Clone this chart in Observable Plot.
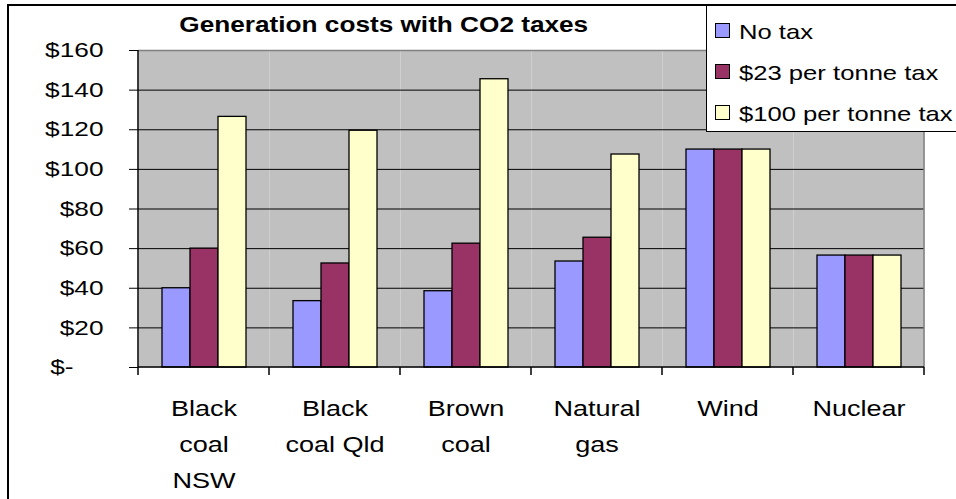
<!DOCTYPE html>
<html>
<head>
<meta charset="utf-8">
<script src="https://cdn.jsdelivr.net/npm/d3@7"></script>
<script src="https://cdn.jsdelivr.net/npm/@observablehq/plot@0.6"></script>
<style>
  html, body { margin: 0; padding: 0; background: #fff; }
  #wrap { position: relative; width: 956px; height: 499px; overflow: hidden; font-family: "Liberation Sans", Arial, sans-serif; }
  #chart { position: absolute; left: 0; top: 0; }
  #outer { position: absolute; left: 7px; top: 4px; width: 1000px; height: 600px; border: 2px solid #000; box-sizing: border-box; pointer-events: none; }
  #title { position: absolute; left: 0; width: 768px; top: 14px; text-align: center; font-weight: bold; font-size: 22px; line-height: 22px; color: #000; }
  #title span { display: inline-block; transform: scaleX(1.19); transform-origin: center; }
  #legend { position: absolute; left: 706px; top: 5px; width: 300px; height: 127px; background: #fff; border: 1px solid #000; box-sizing: border-box; }
  .item { position: absolute; left: 32px; font-size: 21px; line-height: 21px; color: #000; white-space: nowrap; transform: scaleX(1.22); transform-origin: left center; }
  .sw { position: absolute; left: 8px; width: 15px; height: 15px; border: 1px solid #000; box-sizing: border-box; }
</style>
</head>
<body>
<div id="wrap">
  <div id="chart"></div>
  <div id="title"><span></span></div>
  <div id="legend"></div>
  <div id="outer"></div>
</div>
<script>
const title = "Generation costs with CO2 taxes";
const categories = ["Black coal NSW", "Black coal Qld", "Brown coal", "Natural gas", "Wind", "Nuclear"];
const categoryLabels = ["Black\ncoal\nNSW", "Black\ncoal Qld", "Brown\ncoal", "Natural\ngas", "Wind", "Nuclear"];
const series = ["No tax", "$23 per tonne tax", "$100 per tonne tax"];
const colors = ["#9999FF", "#993366", "#FFFFCC"];
const noTax = [40, 33.5, 38.5, 53.5, 110, 56.5];
const tax23 = [60, 52.5, 62.5, 65.5, 110, 56.5];
const tax100 = [126.5, 119.5, 145.5, 107.5, 110, 56.5];
const yTicks = [0, 20, 40, 60, 80, 100, 120, 140, 160];

const values = [noTax, tax23, tax100];
const data = [];
categories.forEach((c, i) => series.forEach((s, j) => data.push({category: c, series: s, value: values[j][i]})));

const font = "Liberation Sans, Arial, sans-serif";
const plot = Plot.plot({
  width: 956,
  height: 499,
  marginLeft: 137,
  marginRight: 31,
  marginTop: 50,
  marginBottom: 132,
  style: {fontFamily: font, fontSize: "20px", color: "#000", background: "transparent", overflow: "visible"},
  fx: {domain: categories, paddingInner: 0, paddingOuter: 0, label: null, axis: null},
  x: {domain: series, paddingInner: 0, paddingOuter: 0.76, axis: null},
  y: {domain: [0, 160], label: null, axis: null},
  color: {domain: series, range: colors},
  marks: [
    Plot.frame({fill: "#C0C0C0", stroke: null}),
    Plot.ruleY(yTicks.filter(d => d > 0 && d < 160), {stroke: "#000", strokeWidth: 1}),
    Plot.ruleY([160], {stroke: "#808080", strokeWidth: 1.5}),
    Plot.barY(data, {fx: "category", x: "series", y: "value", fill: "series", stroke: "#000", strokeWidth: 1.3, inset: 0}),
    Plot.axisY({ticks: yTicks.filter(d => d > 0), tickFormat: d => "$" + d, tickSize: 9, tickPadding: 26, fontSize: 21, label: null}),
    Plot.axisY({ticks: [0], tickFormat: () => "$-", tickSize: 9, tickPadding: 56, fontSize: 21, label: null}),
    Plot.axisFx({anchor: "bottom", tickSize: 0, tickPadding: 23, tickFormat: c => categoryLabels[categories.indexOf(c)], lineHeight: 1.64, fontSize: 22, label: null})
  ]
});
document.getElementById("chart").appendChild(plot);

const svg = d3.select(plot);
// horizontally widen tick labels as in the reference rendering
function widen(sel, s) {
  sel.each(function() {
    const t = this.getAttribute("transform") || "";
    this.setAttribute("transform", t + ` scale(${s},1)`);
  });
}
widen(svg.selectAll('g[aria-label="y-axis tick label"] text'), 1.25);
widen(svg.selectAll('g[aria-label="fx-axis tick label"] text'), 1.23);

// axis lines and category boundary ticks using the plot's own scales
const fx = plot.scale("fx"), y = plot.scale("y");
const x0 = fx.apply(categories[0]);
const xN = fx.apply(categories[categories.length - 1]) + fx.bandwidth;
const yb = y.apply(0), yt = y.apply(160);
const g = svg.append("g");
g.append("line").attr("x1", xN).attr("x2", xN).attr("y1", yt).attr("y2", yb).attr("stroke", "#808080").attr("stroke-width", 1.5);
g.append("line").attr("x1", x0).attr("x2", x0).attr("y1", yt).attr("y2", yb + 8).attr("stroke", "#000").attr("stroke-width", 1.5);
g.append("line").attr("x1", x0).attr("x2", xN).attr("y1", yb).attr("y2", yb).attr("stroke", "#000").attr("stroke-width", 1.5);
categories.forEach(c => {
  const xx = fx.apply(c) + fx.bandwidth;
  g.append("line").attr("x1", xx).attr("x2", xx).attr("y1", yb).attr("y2", yb + 8).attr("stroke", "#000").attr("stroke-width", 1.5);
});

document.querySelector("#title span").textContent = title;
const legend = document.getElementById("legend");
series.forEach((s, j) => {
  const sw = document.createElement("div");
  sw.className = "sw";
  sw.style.top = (16.5 + j * 41) + "px";
  sw.style.background = colors[j];
  legend.appendChild(sw);
  const d = document.createElement("div");
  d.className = "item";
  d.style.top = (14.5 + j * 41) + "px";
  d.textContent = s;
  legend.appendChild(d);
});
</script>
</body>
</html>
